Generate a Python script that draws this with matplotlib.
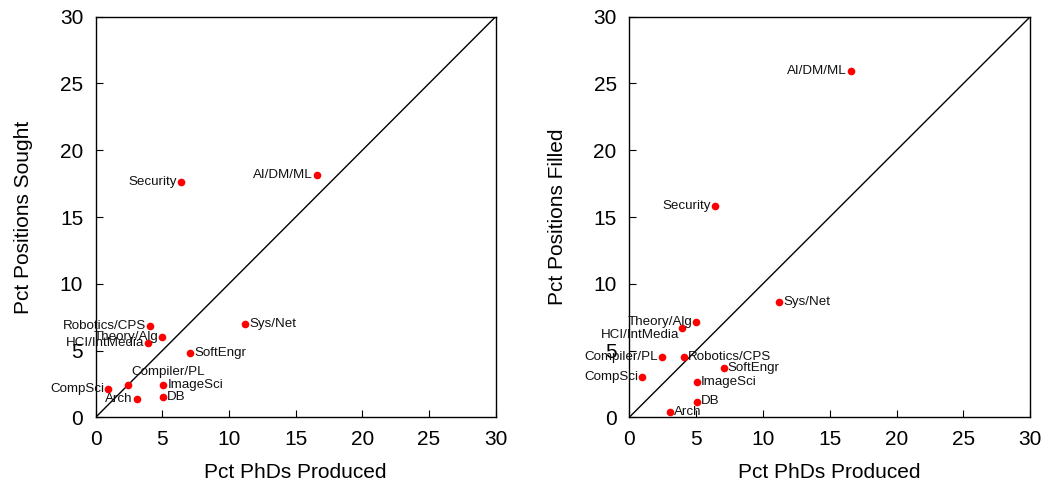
import matplotlib
matplotlib.use('Agg')
import matplotlib.pyplot as plt

plt.rcParams['font.family'] = ['Liberation Sans', 'DejaVu Sans']

# Gegevens
gebieden = ['AI/DM/ML', 'Security', 'Sys/Net', 'Robotics/CPS', 'Theory/Alg',
            'HCI/IntMedia', 'SoftEngr', 'Compiler/PL', 'ImageSci', 'CompSci',
            'Arch', 'DB']
phds = [16.6, 6.4, 11.2, 4.1, 5.0, 3.95, 7.08, 2.45, 5.07, 0.95, 3.07, 5.07]
gezocht = [18.17, 17.65, 7.0, 6.85, 6.05, 5.55, 4.85, 2.42, 2.42, 2.1, 1.4, 1.5]
gevuld = [25.9, 15.8, 8.65, 4.55, 7.13, 6.72, 3.72, 4.55, 2.65, 3.02, 0.42, 1.13]

# label positie: (dx, dy in pixels, ha)
L = (-4, 0, 'right')
R = (4, 0, 'left')
pos_links = {'AI/DM/ML': L, 'Security': L, 'Sys/Net': R, 'Robotics/CPS': L,
             'Theory/Alg': L, 'HCI/IntMedia': L, 'SoftEngr': R,
             'Compiler/PL': (3, 13, 'left'), 'ImageSci': R, 'CompSci': L,
             'Arch': L, 'DB': R}
pos_rechts = {'AI/DM/ML': L, 'Security': L, 'Sys/Net': R, 'Robotics/CPS': R,
              'Theory/Alg': L, 'HCI/IntMedia': (-3, -7, 'right'), 'SoftEngr': R,
              'Compiler/PL': L, 'ImageSci': R, 'CompSci': L,
              'Arch': R, 'DB': (4, 1, 'left')}

fig = plt.figure(figsize=(10.47, 4.83), dpi=100)
ax1 = fig.add_axes([0.0914, 0.136, 0.382, 0.8294])
ax2 = fig.add_axes([0.601, 0.136, 0.383, 0.8294])


def teken(ax, yvals, posities, ylabel):
    ax.plot([0, 30], [0, 30], color='black', lw=1)
    ax.plot(phds, yvals, 'o', color='red', ms=5.5, mec='none', zorder=3)
    for naam, x, y in zip(gebieden, phds, yvals):
        dx, dy, ha = posities[naam]
        ax.annotate(naam, (x, y), xytext=(dx, dy), textcoords='offset pixels',
                    ha=ha, va='center', fontsize=9.6, color='#111111')
    ax.set_xlim(0, 30)
    ax.set_ylim(0, 30)
    ax.set_xticks(range(0, 31, 5))
    ax.set_yticks(range(0, 31, 5))
    ax.tick_params(direction='in', length=5, width=0.8, labelsize=15, pad=9)
    for s in ax.spines.values():
        s.set_linewidth(1)
    ax.set_xlabel('Pct PhDs Produced', fontsize=15, labelpad=10)
    ax.set_ylabel(ylabel, fontsize=15, labelpad=19)


teken(ax1, gezocht, pos_links, 'Pct Positions Sought')
teken(ax2, gevuld, pos_rechts, 'Pct Positions Filled')

fig.savefig('out.png', dpi=100)
